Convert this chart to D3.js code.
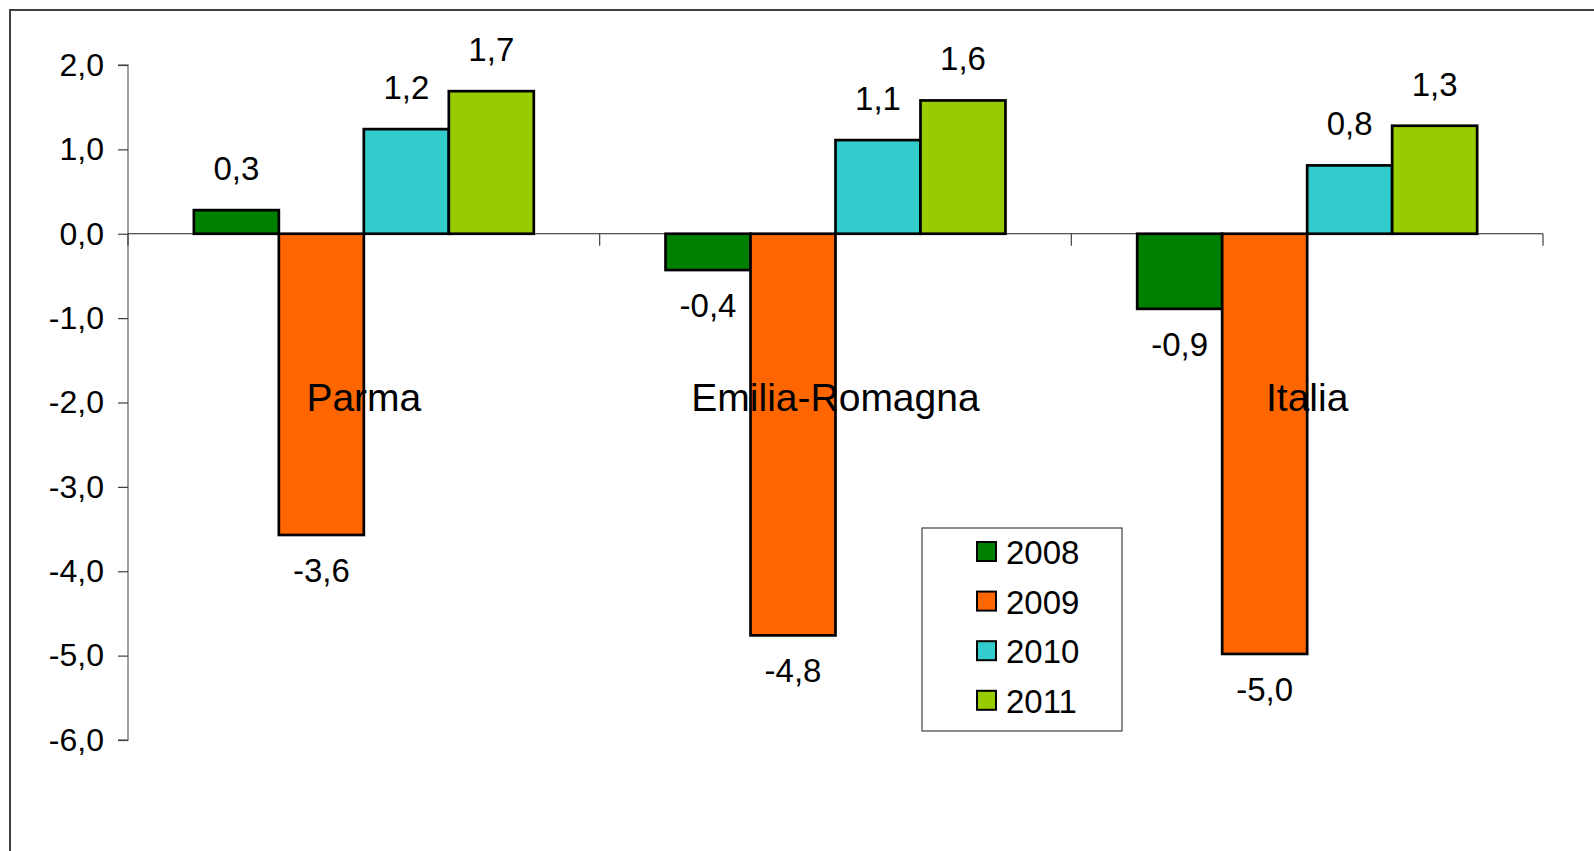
<!DOCTYPE html>
<html>
<head>
<meta charset="utf-8">
<script src="https://cdn.jsdelivr.net/npm/d3@7"></script>
<style>
  html, body { margin: 0; padding: 0; background: #fff; overflow: hidden; }
  svg { display: block; font-family: "Liberation Sans", Arial, sans-serif; }
</style>
</head>
<body>
<svg id="chart" width="1594" height="851"></svg>
<script>
const categories = ["Parma", "Emilia-Romagna", "Italia"];
const seriesNames = ["2008", "2009", "2010", "2011"];
const seriesColors = ["#008000", "#FF6600", "#33CCCC", "#99CC00"];
const values2008 = [0.28, -0.43, -0.89];
const values2009 = [-3.57, -4.76, -4.98];
const values2010 = [1.24, 1.11, 0.81];
const values2011 = [1.69, 1.58, 1.28];
const yTicks = [2, 1, 0, -1, -2, -3, -4, -5, -6];

const seriesValues = [values2008, values2009, values2010, values2011];

const svg = d3.select("#chart");
const W = 1594, H = 851;

// outer chart border (extends past the bottom/right of the viewport)
svg.append("rect")
  .attr("x", 10).attr("y", 10)
  .attr("width", W + 20).attr("height", H + 20)
  .attr("fill", "none").attr("stroke", "#404040").attr("stroke-width", 2);

const plotLeft = 128, plotRight = 1543, plotTop = 65, plotBottom = 740;

const y = d3.scaleLinear().domain([-6, 2]).range([plotBottom, plotTop]);
const x0 = d3.scaleBand().domain(categories).range([plotLeft, plotRight]).padding(0);
const x1 = d3.scaleBand().domain(seriesNames).range([0, x0.bandwidth()])
  .paddingInner(0).paddingOuter(0.775);

const locale = d3.formatLocale({decimal: ",", thousands: ".", grouping: [3], currency: ["", ""], minus: "-"});
const fmt = locale.format(".1f");

// Y axis
const yAxis = d3.axisLeft(y).tickValues(yTicks).tickSize(10).tickPadding(14).tickFormat(fmt);
const gy = svg.append("g").attr("transform", `translate(${plotLeft},0)`).call(yAxis);
gy.select(".domain").attr("stroke", "#808080").attr("stroke-width", 1.5).attr("d", `M-10,${y(2)}H0V${y(-6)}H-10`);
gy.selectAll(".tick line").attr("stroke", "#404040").attr("stroke-width", 1.2);
gy.selectAll(".tick text").attr("font-size", 32).attr("fill", "#000")
  .attr("font-family", "'Liberation Sans', Arial, sans-serif");

// Bars
const data = [];
categories.forEach((c, ci) => {
  seriesNames.forEach((s, si) => {
    data.push({cat: c, ser: s, si: si, v: seriesValues[si][ci]});
  });
});

// X axis (category axis at zero)
const xAxisG = svg.append("g").attr("transform", `translate(0,${y(0)})`);
xAxisG.append("line").attr("x1", plotLeft).attr("x2", plotRight).attr("y1", 0).attr("y2", 0)
  .attr("stroke", "#202020").attr("stroke-width", 1.2);
const boundaries = categories.map(c => x0(c)).concat([x0(categories[categories.length - 1]) + x0.bandwidth()]);
xAxisG.selectAll("line.tk").data(boundaries).enter().append("line").attr("class", "tk")
  .attr("x1", d => d).attr("x2", d => d).attr("y1", 0).attr("y2", 12)
  .attr("stroke", "#404040").attr("stroke-width", 1.2);

const barG = svg.append("g");
barG.selectAll("rect").data(data).enter().append("rect")
  .attr("x", d => x0(d.cat) + x1(d.ser))
  .attr("width", x1.bandwidth())
  .attr("y", d => Math.min(y(d.v), y(0)))
  .attr("height", d => Math.abs(y(d.v) - y(0)))
  .attr("fill", d => seriesColors[d.si])
  .attr("stroke", "#000").attr("stroke-width", 2.7);

// Data labels
svg.append("g").selectAll("text").data(data).enter().append("text")
  .attr("x", d => x0(d.cat) + x1(d.ser) + x1.bandwidth() / 2)
  .attr("y", d => d.v >= 0 ? y(d.v) - 30 : y(d.v) + 47)
  .attr("text-anchor", "middle")
  .attr("font-size", 33)
  .attr("fill", "#000")
  .text(d => fmt(d.v));

// Category labels
svg.append("g").selectAll("text").data(categories).enter().append("text")
  .attr("x", d => x0(d) + x0.bandwidth() / 2)
  .attr("y", 411)
  .attr("text-anchor", "middle")
  .attr("font-size", 39)
  .attr("fill", "#000")
  .text(d => d);

// Legend
const lg = svg.append("g").attr("transform", "translate(922,528)");
lg.append("rect").attr("x", 0).attr("y", 0).attr("width", 200).attr("height", 203)
  .attr("fill", "#fff").attr("stroke", "#404040").attr("stroke-width", 1.2);
const items = lg.selectAll("g.item").data(seriesNames).enter().append("g").attr("class", "item")
  .attr("transform", (d, i) => `translate(0,${24 + i * 49.6})`);
items.append("rect").attr("x", 55).attr("y", -10).attr("width", 19).attr("height", 19)
  .attr("fill", (d, i) => seriesColors[i]).attr("stroke", "#000").attr("stroke-width", 2);
items.append("text").attr("x", 84).attr("y", 12).attr("font-size", 33).attr("fill", "#000").text(d => d);
</script>
</body>
</html>
